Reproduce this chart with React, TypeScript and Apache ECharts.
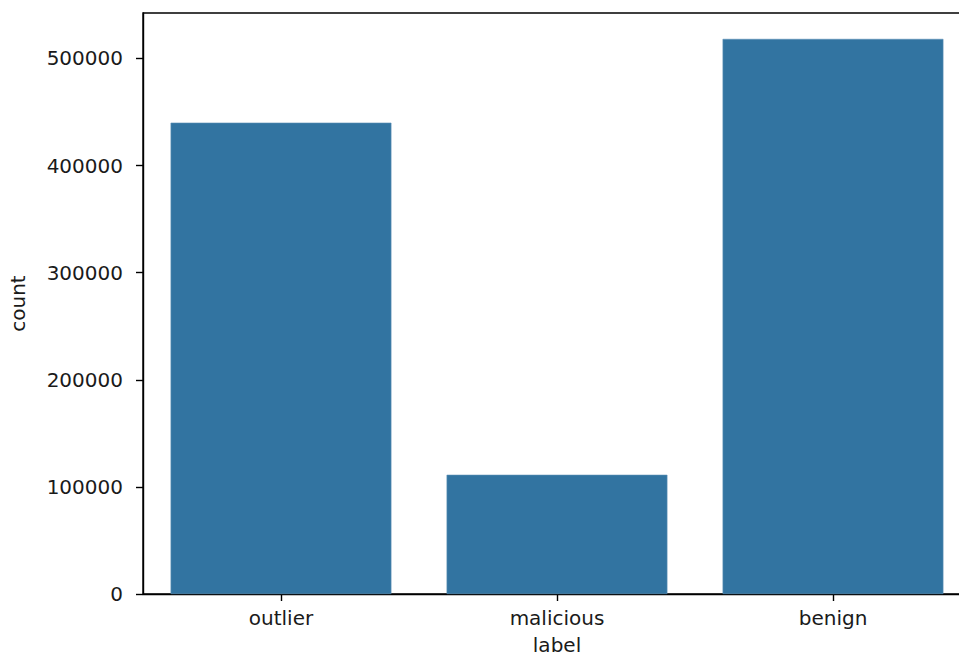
import React, { useEffect, useRef } from "react";
import * as echarts from "echarts";

const categories = ["outlier", "malicious", "benign"];
const counts = [440000, 111300, 518200];
const yTicks = [0, 100000, 200000, 300000, 400000, 500000];
const yMax = 542400;

export default function App() {
  const ref = useRef<HTMLDivElement>(null);
  useEffect(() => {
    if (!ref.current) return;
    const chart = echarts.init(ref.current, undefined, { renderer: "svg" });
    const font = "DejaVu Sans";
    chart.setOption({
      animation: false,
      backgroundColor: "#ffffff",
      textStyle: { fontFamily: font },
      grid: {
        left: 142,
        top: 13,
        right: 5,
        bottom: 64.5,
        show: true,
        borderColor: "#000000",
        borderWidth: 1.4,
        containLabel: false,
      },
      xAxis: {
        type: "category",
        data: categories,
        name: "label",
        nameLocation: "middle",
        nameGap: 41,
        nameTextStyle: { fontSize: 20, color: "#1a1a1a", fontFamily: font },
        axisLine: { lineStyle: { color: "#000000", width: 1.4 } },
        axisTick: { show: true, alignWithLabel: true, length: 7, lineStyle: { color: "#000000", width: 1.4 } },
        axisLabel: { fontSize: 20, color: "#1a1a1a", margin: 14, fontFamily: font },
      },
      yAxis: {
        type: "value",
        min: 0,
        max: yMax,
        interval: 100000,
        name: "count",
        nameLocation: "middle",
        nameGap: 115,
        nameTextStyle: { fontSize: 20, color: "#1a1a1a", fontFamily: font },
        splitLine: { show: false },
        axisLine: { show: true, lineStyle: { color: "#000000", width: 1.4 } },
        axisTick: { show: true, length: 7, lineStyle: { color: "#000000", width: 1.4 }, customValues: yTicks },
        axisLabel: {
          fontSize: 20,
          color: "#1a1a1a",
          margin: 20,
          fontFamily: font,
          customValues: yTicks,
          formatter: (v: number) => String(v),
        },
      },
      series: [
        {
          type: "bar",
          data: counts,
          barWidth: "80%",
          itemStyle: { color: "#3274a1", borderColor: "#5b8fb5", borderWidth: 0.6 },
        },
      ],
    });
    return () => chart.dispose();
  }, []);
  return (
    <div style={{ position: "absolute", left: 0, top: 0, width: 959, height: 660, overflow: "hidden" }}>
      <div ref={ref} style={{ position: "absolute", left: 0, top: 0, width: 976, height: 660 }} />
    </div>
  );
}
